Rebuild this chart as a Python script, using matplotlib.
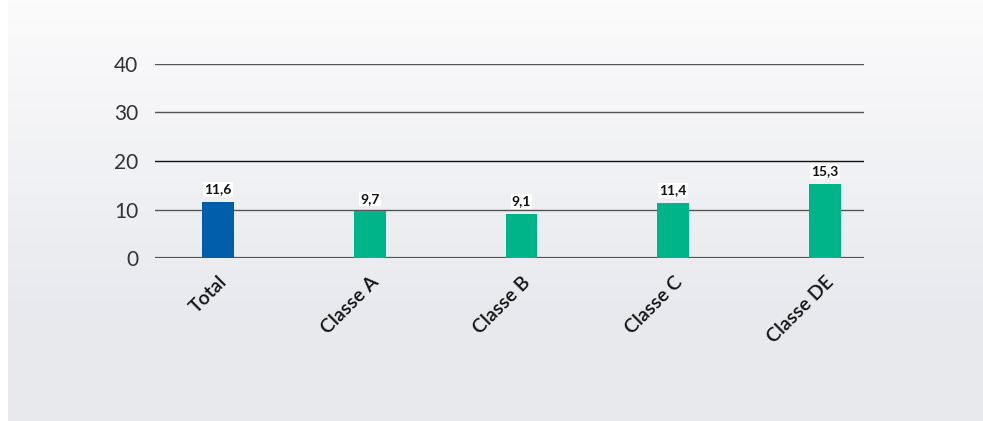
import matplotlib
matplotlib.use("Agg")
import matplotlib.pyplot as plt
import numpy as np

categories = ["Total", "Classe A", "Classe B", "Classe C", "Classe DE"]
values = [11.6, 9.7, 9.1, 11.4, 15.3]
value_labels = ["11,6", "9,7", "9,1", "11,4", "15,3"]
bar_colors = ["#005EAA", "#00B48A", "#00B48A", "#00B48A", "#00B48A"]
y_ticks = [0, 10, 20, 30, 40]

plt.rcParams["font.family"] = ["Lato", "DejaVu Sans"]

W, H = 983, 421
fig = plt.figure(figsize=(W / 100, H / 100), dpi=100)
fig.patch.set_facecolor("white")

# soft vertical gradient panel behind the chart
bg = fig.add_axes([8 / W, 0, (W - 8) / W, 1], zorder=0)
top = np.array([0.985, 0.985, 0.988])
bot = np.array([0.910, 0.914, 0.933])
t = np.clip(np.linspace(0, 1, 256) / 0.75, 0, 1)[:, None]
grad = top[None, :] * (1 - t) + bot[None, :] * t
bg.imshow(grad[:, None, :], aspect="auto", extent=[0, 1, 0, 1])
bg.set_axis_off()

ax = fig.add_axes([155 / W, 1 - 258 / H, (864 - 155) / W, (258 - 64) / H], zorder=1)
ax.patch.set_alpha(0)

x = np.arange(len(categories))
ax.bar(x, values, width=0.21, color=bar_colors, zorder=3)

for xi, v, lab in zip(x, values, value_labels):
    ax.text(xi, v + 1.3, lab, ha="center", va="bottom", fontsize=10,
            fontweight="bold", color="#111111", zorder=4,
            bbox=dict(facecolor="white", edgecolor="none", pad=0.8))

for yv in y_ticks:
    col = "#111111" if yv == 20 else "#555555"
    lw = 1.6 if yv == 0 else 1.0
    ax.axhline(yv, color=col, lw=lw, zorder=2)

ax.set_xlim(-0.415, 4.257)
ax.set_ylim(0, 40)
ax.set_yticks(y_ticks)
ax.set_yticklabels([str(v) for v in y_ticks], fontsize=15, fontweight="normal",
                   color="#333333")
ax.set_xticks(x)
ax.set_xticklabels(categories, rotation=45, ha="right", rotation_mode="anchor",
                   fontsize=14, fontweight="semibold", color="#111111")
ax.tick_params(axis="both", length=0)
ax.tick_params(axis="y", pad=12)
ax.tick_params(axis="x", pad=11)
for s in ax.spines.values():
    s.set_visible(False)

fig.savefig("out.png", dpi=100)
